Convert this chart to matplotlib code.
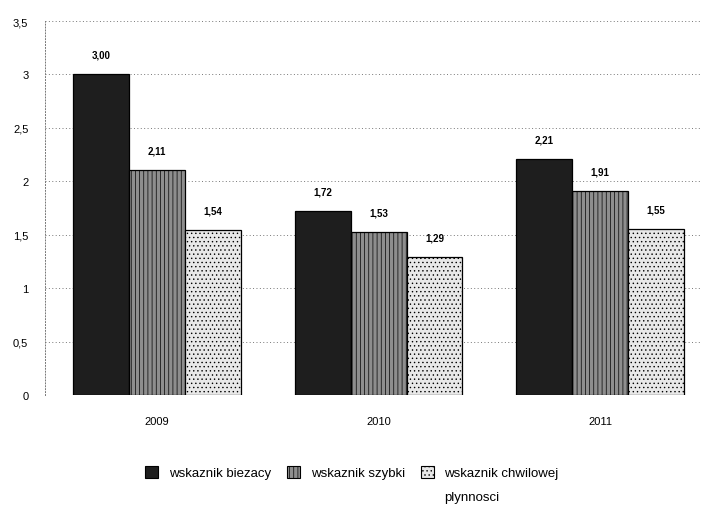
import matplotlib
matplotlib.use("Agg")
import matplotlib.pyplot as plt
from matplotlib.patches import Patch
import numpy as np

plt.rcParams['font.family'] = ['Liberation Sans', 'DejaVu Sans']
plt.rcParams['hatch.linewidth'] = 0.5
plt.rcParams['hatch.color'] = '#707070'

years = ['2009', '2010', '2011']
series_names = ['wskaznik biezacy', 'wskaznik szybki', 'wskaznik chwilowej']
biezacy = [3.00, 1.72, 2.21]
szybki = [2.11, 1.53, 1.91]
chwilowej = [1.54, 1.29, 1.55]
value_labels = [['3,00', '1,72', '2,21'],
                ['2,11', '1,53', '1,91'],
                ['1,54', '1,29', '1,55']]
y_ticks = [0, 0.5, 1, 1.5, 2, 2.5, 3, 3.5]
y_tick_labels = ['0', '0,5', '1', '1,5', '2', '2,5', '3', '3,5']

fig = plt.figure(figsize=(7.04, 5.06), dpi=100)
ax = fig.add_axes([45 / 704, 110 / 506, 655 / 704, 374 / 506])

x = np.arange(len(years))
width = 0.252
styles = [
    dict(facecolor='#1e1e1e', hatch=None),
    dict(facecolor='#8e8e8e', hatch='||||'),
    dict(facecolor='#e8e8e8', hatch='....'),
]
handles = []
for i, (vals, st) in enumerate(zip([biezacy, szybki, chwilowej], styles)):
    bars = ax.bar(x + (i - 1) * width, vals, width, facecolor=st['facecolor'],
                  edgecolor='black', linewidth=0.9, hatch=st['hatch'], zorder=3)
    for b, lab in zip(bars, value_labels[i]):
        ax.annotate(lab, (b.get_x() + b.get_width() / 2, b.get_height()),
                    xytext=(0, 14), textcoords='offset points',
                    ha='center', va='center', fontsize=7, fontweight='bold')
    handles.append(Patch(facecolor=st['facecolor'], edgecolor='black',
                         linewidth=0.8, hatch=st['hatch']))

ax.set_xlim(-0.505, 2.45)
ax.set_ylim(0, 3.5)
ax.set_yticks(y_ticks)
ax.set_yticklabels(y_tick_labels)
ax.set_xticks(x)
ax.set_xticklabels(years)
ax.tick_params(axis='both', length=0, labelsize=8)
ax.tick_params(axis='y', pad=12)
ax.tick_params(axis='x', pad=15)

for s in ['top', 'right', 'bottom']:
    ax.spines[s].set_visible(False)
ax.spines['left'].set_linestyle((0, (1, 2)))
ax.spines['left'].set_color('#777777')
ax.spines['left'].set_linewidth(0.7)

ax.grid(axis='y', linestyle=(0, (1, 2.5)), color='#777777', linewidth=0.7, zorder=0)
ax.set_axisbelow(True)

leg = fig.legend(handles, series_names, loc='center', bbox_to_anchor=(0.5, 0.064),
                 ncol=3, frameon=False, fontsize=9.5, handlelength=1.0,
                 handleheight=1.0, handletextpad=0.8, columnspacing=1.2)

fig.canvas.draw()
t = leg.get_texts()[2]
bb = t.get_window_extent(fig.canvas.get_renderer())
fig.text(bb.x0 / fig.bbox.width, (bb.y0 - 24) / fig.bbox.height, 'plynnosci',
         fontsize=9.5, ha='left', va='bottom')

fig.savefig('out.png', dpi=100)
